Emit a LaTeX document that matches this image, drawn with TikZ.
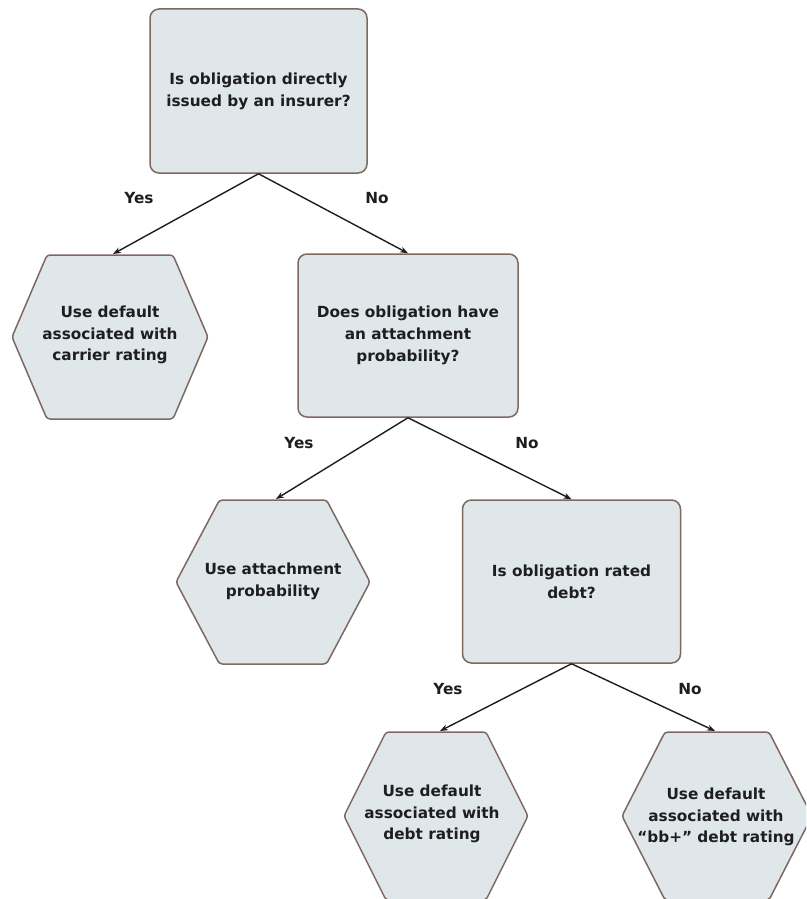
\documentclass[tikz,border=0pt]{standalone}
\usepackage{fontspec}
\setmainfont{DejaVu Sans}
\usetikzlibrary{arrows.meta,calc}
\definecolor{boxfill}{RGB}{223,231,235}
\definecolor{boxline}{RGB}{125,105,95}
\definecolor{ink}{RGB}{30,30,30}
\newcommand\hexpath[5]{% cx cy a b h
  \draw[hexbody] (#1-#4,#2-#5) -- (#1+#4,#2-#5) -- (#1+#3,#2) -- (#1+#4,#2+#5)
    -- (#1-#4,#2+#5) -- (#1-#3,#2) -- cycle;}
\tikzset{
  x=1pt, y=-1pt,
  txt/.style={text=ink, font=\fontsize{15.3}{21.7}\selectfont\bfseries, align=center, inner sep=0pt},
  qbox/.style={txt, draw=boxline, line width=1.5pt, fill=boxfill, rounded corners=9pt},
  hexbody/.style={draw=boxline, line width=1.5pt, fill=boxfill, rounded corners=3pt},
  lbl/.style={txt},
  conn/.style={draw=ink, line width=1.4pt, -{Stealth[length=8pt,width=6pt]}},
}
\begin{document}
\begin{tikzpicture}
\useasboundingbox (0,0) rectangle (806,899);
\begin{scope}
\clip (0,0) rectangle (806,899);
% question boxes
\node[qbox, minimum width=217pt, minimum height=164pt] (q1) at (258.5,91) {Is obligation directly\\issued by an insurer?};
\node[qbox, minimum width=220pt, minimum height=163pt] (q2) at (408,335.5) {Does obligation have\\an attachment\\probability?};
\node[qbox, minimum width=218pt, minimum height=163pt] (q3) at (571.5,581.5) {Is obligation rated\\debt?};
% hexagons
\hexpath{110}{337}{98}{63}{82}
\hexpath{273}{582}{97}{53.5}{82}
\hexpath{436}{816}{92}{50}{84}
\hexpath{717}{816}{95}{52}{84}
\node[txt] (h1) at (110,335) {Use default\\associated with\\carrier rating};
\node[txt] (h2) at (273,581) {Use attachment\\probability};
\node[txt] (h3) at (432,814) {Use default\\associated with\\debt rating};
\node[txt] (h4) at (716,817) {Use default\\associated with\\“bb+” debt rating};
\coordinate (h1t) at (113,254);
\coordinate (h2t) at (276,499);
\coordinate (h3t) at (440,731);
\coordinate (h4t) at (715,731);
% connectors
\draw[conn] (q1.south) -- (h1t);
\draw[conn] (q1.south) -- (q2.north);
\draw[conn] (q2.south) -- (h2t);
\draw[conn] (q2.south) -- (q3.north);
\draw[conn] (q3.south) -- (h3t);
\draw[conn] (q3.south) -- (h4t);
% labels
\node[lbl] (y1) at (139,198) {Yes};
\node[lbl] (n1) at (377,198) {No};
\node[lbl] (y2) at (299,443) {Yes};
\node[lbl] (n2) at (527,443) {No};
\node[lbl] (y3) at (448,689) {Yes};
\node[lbl] (n3) at (690,689) {No};
\end{scope}
\end{tikzpicture}
\end{document}
